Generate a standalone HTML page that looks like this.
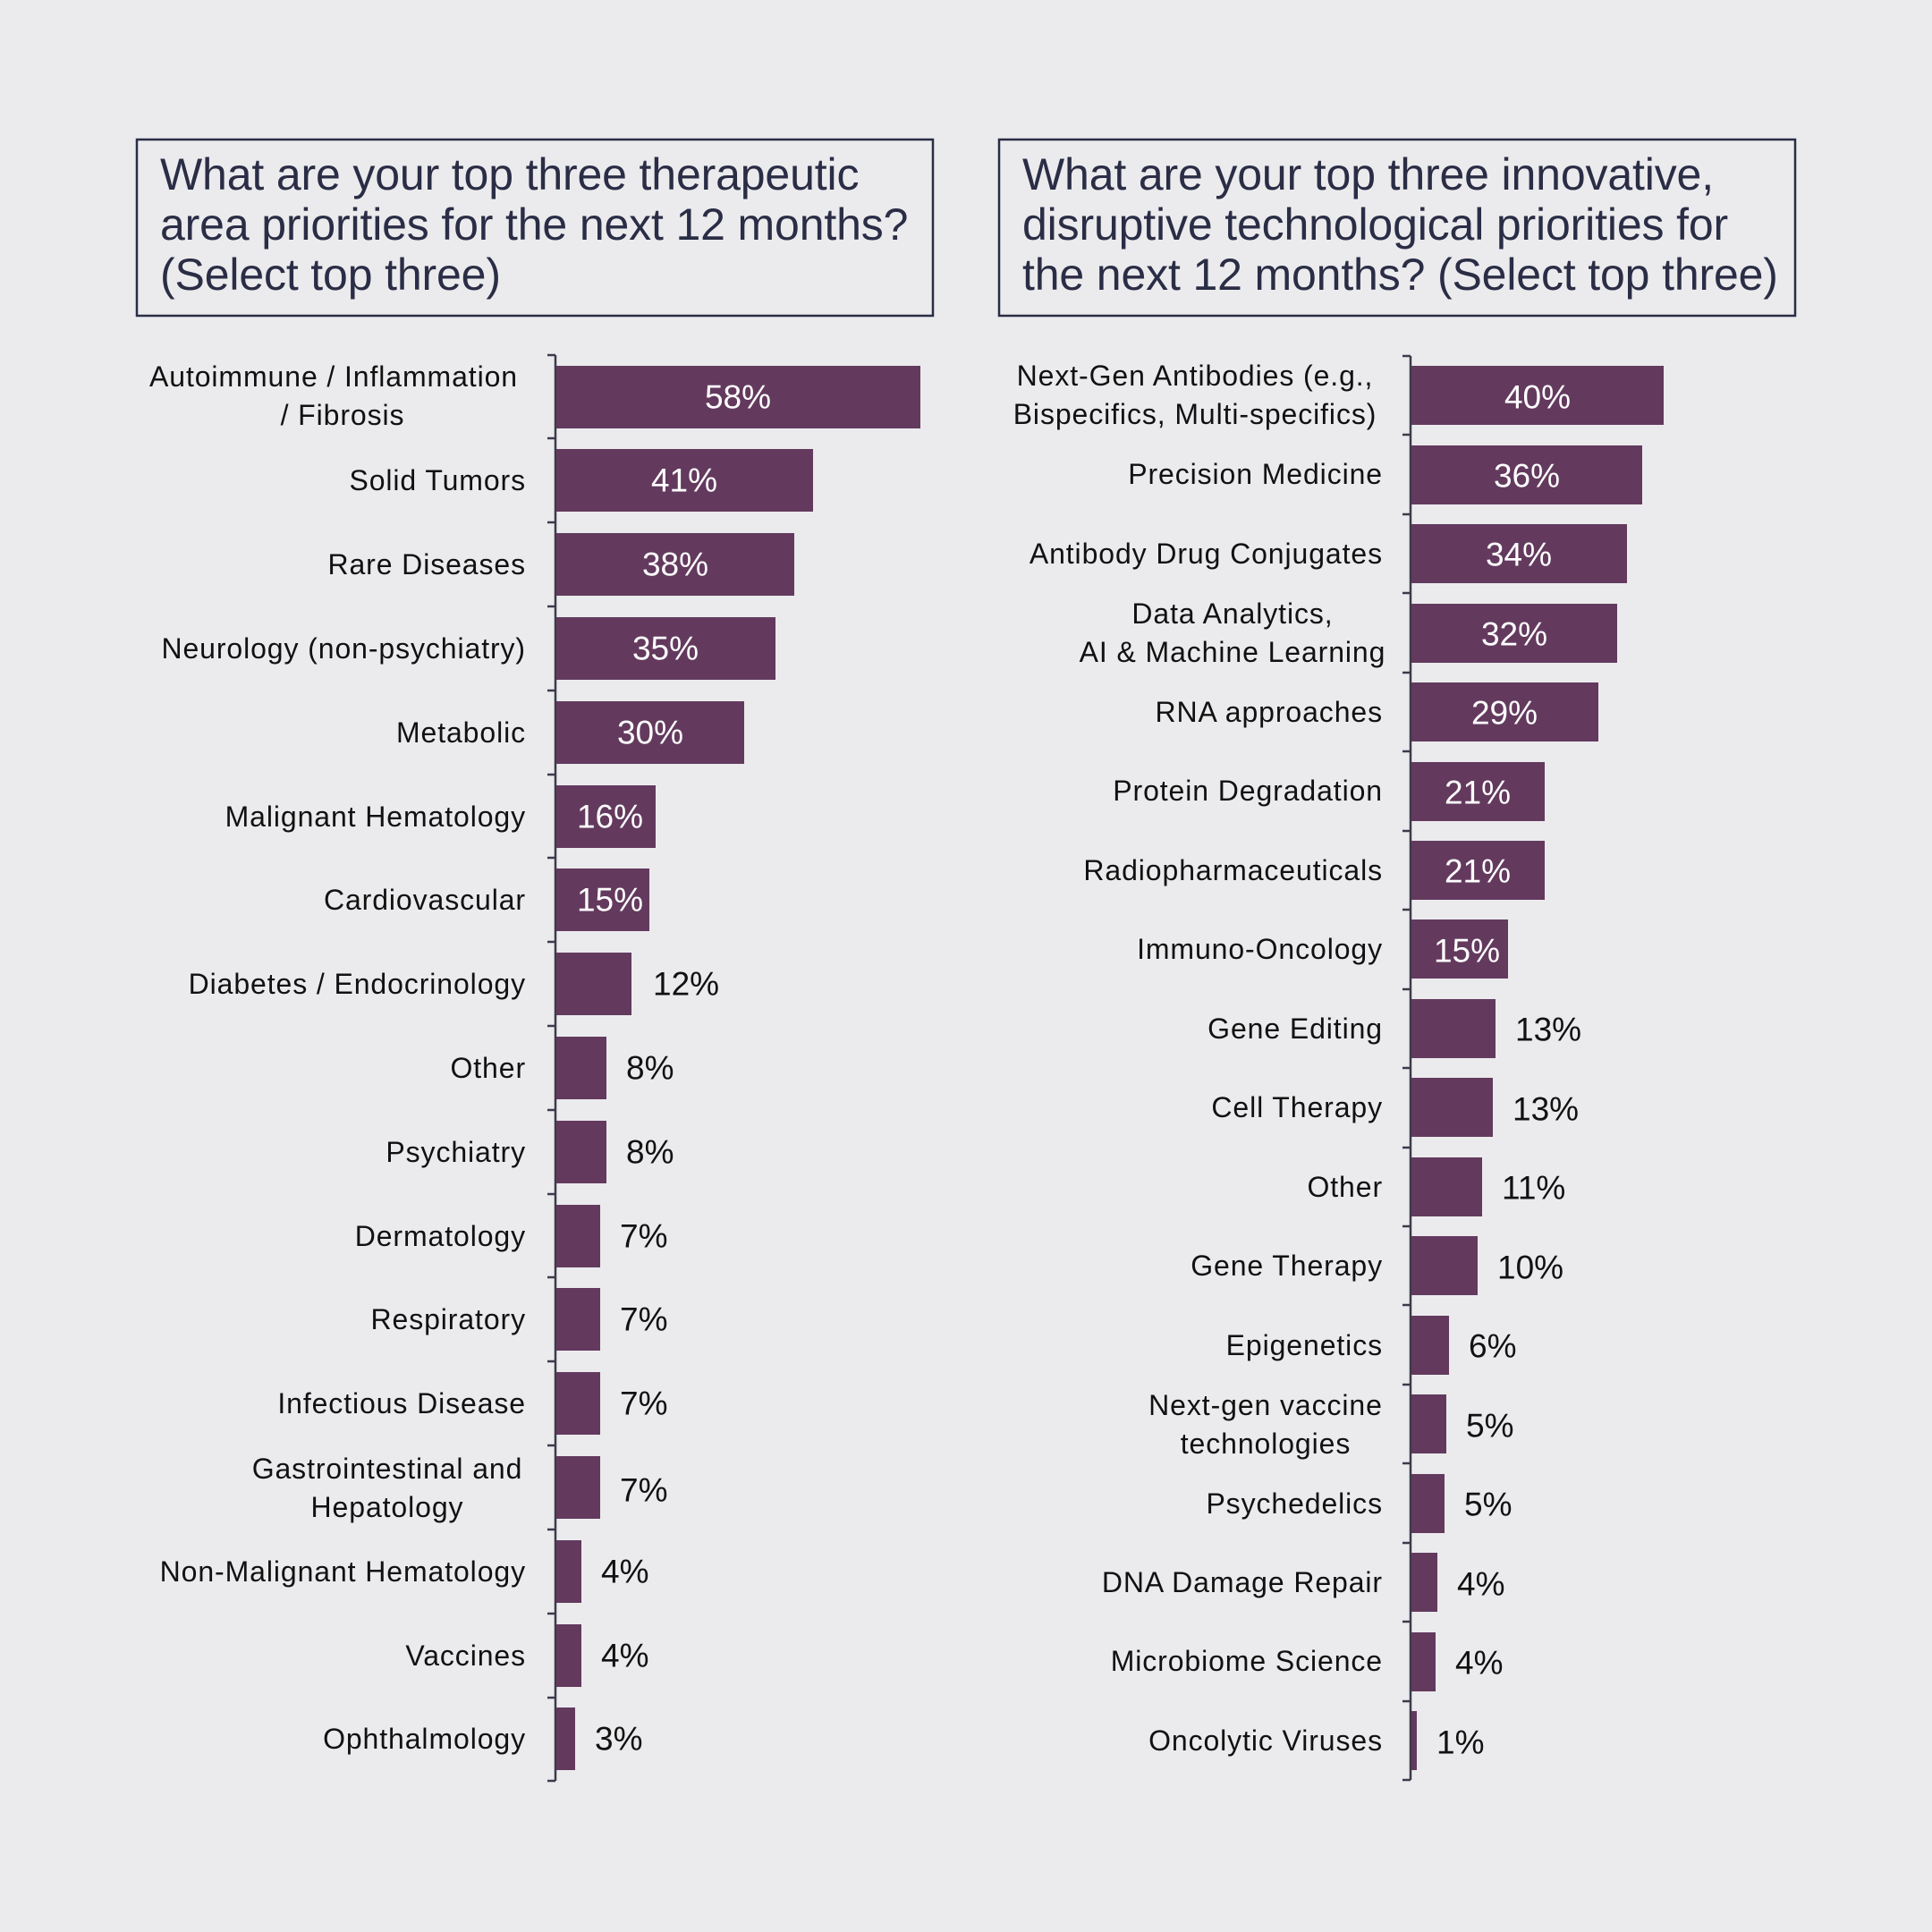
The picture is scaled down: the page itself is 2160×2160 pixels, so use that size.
<!DOCTYPE html>
<html><head><meta charset="utf-8"><style>
html,body{margin:0;padding:0;background:#ebebed;}
svg{display:block;}
.t{font-family:"Liberation Sans",sans-serif;font-size:50px;letter-spacing:-0.15px;fill:#2a2d45;}
.l{font-family:"Liberation Sans",sans-serif;font-size:32px;letter-spacing:0.9px;fill:#111;text-anchor:end;dominant-baseline:central;}
.m{text-anchor:middle;}
.vi{font-family:"Liberation Sans",sans-serif;font-size:37px;fill:#fff;text-anchor:middle;dominant-baseline:central;}
.vo{font-family:"Liberation Sans",sans-serif;font-size:37px;fill:#111;dominant-baseline:central;}
rect.b{fill:#633a5e;}
</style></head><body>
<svg width="2160" height="2160" viewBox="0 0 2160 2160" xmlns="http://www.w3.org/2000/svg">
<rect width="2160" height="2160" fill="#ebebed"/>
<rect x="153" y="156" width="890" height="197" fill="none" stroke="#2a2d45" stroke-width="2.5"/>
<text class="t" x="179" y="212">What are your top three therapeutic</text>
<text class="t" x="179" y="268">area priorities for the next 12 months?</text>
<text class="t" x="179" y="324">(Select top three)</text>
<rect x="1117" y="156" width="890" height="197" fill="none" stroke="#2a2d45" stroke-width="2.5"/>
<text class="t" x="1143" y="212">What are your top three innovative,</text>
<text class="t" x="1143" y="268">disruptive technological priorities for</text>
<text class="t" x="1143" y="324">the next 12 months? (Select top three)</text>

<g stroke="#3b3b4b" stroke-width="2.5">
<line x1="621" y1="397" x2="621" y2="1991"/>
<line x1="612" y1="397" x2="621" y2="397"/><line x1="612" y1="490" x2="621" y2="490"/><line x1="612" y1="584" x2="621" y2="584"/><line x1="612" y1="678" x2="621" y2="678"/><line x1="612" y1="772" x2="621" y2="772"/><line x1="612" y1="866" x2="621" y2="866"/><line x1="612" y1="959" x2="621" y2="959"/><line x1="612" y1="1053" x2="621" y2="1053"/><line x1="612" y1="1147" x2="621" y2="1147"/><line x1="612" y1="1241" x2="621" y2="1241"/><line x1="612" y1="1335" x2="621" y2="1335"/><line x1="612" y1="1428" x2="621" y2="1428"/><line x1="612" y1="1522" x2="621" y2="1522"/><line x1="612" y1="1616" x2="621" y2="1616"/><line x1="612" y1="1710" x2="621" y2="1710"/><line x1="612" y1="1804" x2="621" y2="1804"/><line x1="612" y1="1898" x2="621" y2="1898"/><line x1="612" y1="1991" x2="621" y2="1991"/>
<line x1="1577" y1="398" x2="1577" y2="1990"/>
<line x1="1568" y1="398" x2="1577" y2="398"/><line x1="1568" y1="486" x2="1577" y2="486"/><line x1="1568" y1="575" x2="1577" y2="575"/><line x1="1568" y1="663" x2="1577" y2="663"/><line x1="1568" y1="752" x2="1577" y2="752"/><line x1="1568" y1="840" x2="1577" y2="840"/><line x1="1568" y1="929" x2="1577" y2="929"/><line x1="1568" y1="1017" x2="1577" y2="1017"/><line x1="1568" y1="1106" x2="1577" y2="1106"/><line x1="1568" y1="1194" x2="1577" y2="1194"/><line x1="1568" y1="1283" x2="1577" y2="1283"/><line x1="1568" y1="1371" x2="1577" y2="1371"/><line x1="1568" y1="1459" x2="1577" y2="1459"/><line x1="1568" y1="1548" x2="1577" y2="1548"/><line x1="1568" y1="1636" x2="1577" y2="1636"/><line x1="1568" y1="1725" x2="1577" y2="1725"/><line x1="1568" y1="1813" x2="1577" y2="1813"/><line x1="1568" y1="1902" x2="1577" y2="1902"/><line x1="1568" y1="1990" x2="1577" y2="1990"/>
</g>

<!-- Left bars -->
<rect class="b" x="622" y="409" width="407" height="70"/><text class="vi" x="825" y="444">58%</text>
<text class="l m" x="373" y="421">Autoimmune / Inflammation</text><text class="l m" x="383" y="464">/ Fibrosis</text>
<rect class="b" x="622" y="502" width="287" height="70"/><text class="vi" x="765" y="537">41%</text><text class="l" x="588" y="537">Solid Tumors</text>
<rect class="b" x="622" y="596" width="266" height="70"/><text class="vi" x="755" y="631">38%</text><text class="l" x="588" y="631">Rare Diseases</text>
<rect class="b" x="622" y="690" width="245" height="70"/><text class="vi" x="744" y="725">35%</text><text class="l" x="588" y="725">Neurology (non-psychiatry)</text>
<rect class="b" x="622" y="784" width="210" height="70"/><text class="vi" x="727" y="819">30%</text><text class="l" x="588" y="819">Metabolic</text>
<rect class="b" x="622" y="878" width="111" height="70"/><text class="vi" x="682" y="913">16%</text><text class="l" x="588" y="913">Malignant Hematology</text>
<rect class="b" x="622" y="971" width="104" height="70"/><text class="vi" x="682" y="1006">15%</text><text class="l" x="588" y="1006">Cardiovascular</text>
<rect class="b" x="622" y="1065" width="84" height="70"/><text class="vo" x="730" y="1100">12%</text><text class="l" x="588" y="1100">Diabetes / Endocrinology</text>
<rect class="b" x="622" y="1159" width="56" height="70"/><text class="vo" x="700" y="1194">8%</text><text class="l" x="588" y="1194">Other</text>
<rect class="b" x="622" y="1253" width="56" height="70"/><text class="vo" x="700" y="1288">8%</text><text class="l" x="588" y="1288">Psychiatry</text>
<rect class="b" x="622" y="1347" width="49" height="70"/><text class="vo" x="693" y="1382">7%</text><text class="l" x="588" y="1382">Dermatology</text>
<rect class="b" x="622" y="1440" width="49" height="70"/><text class="vo" x="693" y="1475">7%</text><text class="l" x="588" y="1475">Respiratory</text>
<rect class="b" x="622" y="1534" width="49" height="70"/><text class="vo" x="693" y="1569">7%</text><text class="l" x="588" y="1569">Infectious Disease</text>
<rect class="b" x="622" y="1628" width="49" height="70"/><text class="vo" x="693" y="1666">7%</text><text class="l m" x="433" y="1642">Gastrointestinal and</text><text class="l m" x="433" y="1685">Hepatology</text>
<rect class="b" x="622" y="1722" width="28" height="70"/><text class="vo" x="672" y="1757">4%</text><text class="l" x="588" y="1757">Non-Malignant Hematology</text>
<rect class="b" x="622" y="1816" width="28" height="70"/><text class="vo" x="672" y="1851">4%</text><text class="l" x="588" y="1851">Vaccines</text>
<rect class="b" x="622" y="1909" width="21" height="70"/><text class="vo" x="665" y="1944">3%</text><text class="l" x="588" y="1944">Ophthalmology</text>

<!-- Right bars -->
<rect class="b" x="1578" y="409" width="282" height="66"/><text class="vi" x="1719" y="444">40%</text>
<text class="l m" x="1336" y="420">Next-Gen Antibodies (e.g.,</text><text class="l m" x="1336" y="463">Bispecifics, Multi-specifics)</text>
<rect class="b" x="1578" y="498" width="258" height="66"/><text class="vi" x="1707" y="532">36%</text><text class="l" x="1546" y="530">Precision Medicine</text>
<rect class="b" x="1578" y="586" width="241" height="66"/><text class="vi" x="1698" y="620">34%</text><text class="l" x="1546" y="619">Antibody Drug Conjugates</text>
<rect class="b" x="1578" y="675" width="230" height="66"/><text class="vi" x="1693" y="709">32%</text><text class="l m" x="1378" y="686">Data Analytics,</text><text class="l m" x="1378" y="729">AI &amp; Machine Learning</text>
<rect class="b" x="1578" y="763" width="209" height="66"/><text class="vi" x="1682" y="797">29%</text><text class="l" x="1546" y="796">RNA approaches</text>
<rect class="b" x="1578" y="852" width="149" height="66"/><text class="vi" x="1652" y="886">21%</text><text class="l" x="1546" y="884">Protein Degradation</text>
<rect class="b" x="1578" y="940" width="149" height="66"/><text class="vi" x="1652" y="974">21%</text><text class="l" x="1546" y="973">Radiopharmaceuticals</text>
<rect class="b" x="1578" y="1028" width="108" height="66"/><text class="vi" x="1640" y="1063">15%</text><text class="l" x="1546" y="1061">Immuno-Oncology</text>
<rect class="b" x="1578" y="1117" width="94" height="66"/><text class="vo" x="1694" y="1151">13%</text><text class="l" x="1546" y="1150">Gene Editing</text>
<rect class="b" x="1578" y="1205" width="91" height="66"/><text class="vo" x="1691" y="1240">13%</text><text class="l" x="1546" y="1238">Cell Therapy</text>
<rect class="b" x="1578" y="1294" width="79" height="66"/><text class="vo" x="1679" y="1328">11%</text><text class="l" x="1546" y="1327">Other</text>
<rect class="b" x="1578" y="1382" width="74" height="66"/><text class="vo" x="1674" y="1417">10%</text><text class="l" x="1546" y="1415">Gene Therapy</text>
<rect class="b" x="1578" y="1471" width="42" height="66"/><text class="vo" x="1642" y="1505">6%</text><text class="l" x="1546" y="1504">Epigenetics</text>
<rect class="b" x="1578" y="1559" width="39" height="66"/><text class="vo" x="1639" y="1594">5%</text><text class="l m" x="1415" y="1571">Next-gen vaccine</text><text class="l m" x="1415" y="1614">technologies</text>
<rect class="b" x="1578" y="1648" width="37" height="66"/><text class="vo" x="1637" y="1682">5%</text><text class="l" x="1546" y="1681">Psychedelics</text>
<rect class="b" x="1578" y="1736" width="29" height="66"/><text class="vo" x="1629" y="1771">4%</text><text class="l" x="1546" y="1769">DNA Damage Repair</text>
<rect class="b" x="1578" y="1825" width="27" height="66"/><text class="vo" x="1627" y="1859">4%</text><text class="l" x="1546" y="1857">Microbiome Science</text>
<rect class="b" x="1578" y="1913" width="6" height="66"/><text class="vo" x="1606" y="1948">1%</text><text class="l" x="1546" y="1946">Oncolytic Viruses</text>
</svg>
</body></html>
